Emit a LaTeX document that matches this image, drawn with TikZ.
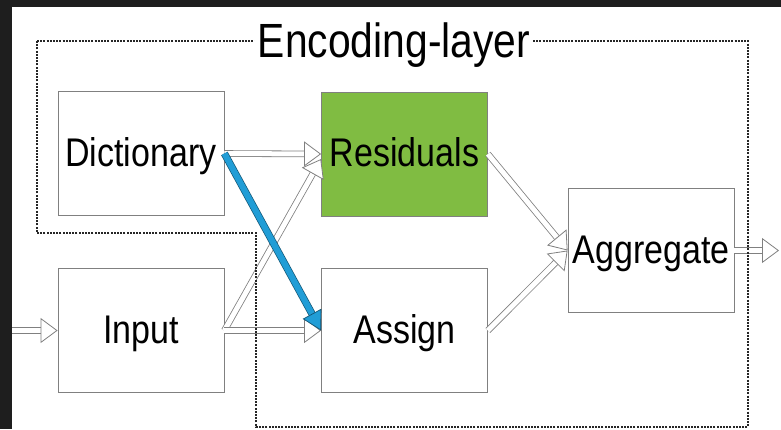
\documentclass[tikz,border=0pt]{standalone}
\usepackage{fontspec}
\setmainfont{Liberation Sans}[FakeStretch=0.85]
\usepackage{tikz}
\usetikzlibrary{arrows.meta}
\definecolor{resgreen}{RGB}{128,188,66}
\definecolor{linkblue}{RGB}{33,157,214}
\definecolor{boxgray}{RGB}{128,128,128}
\definecolor{darkbg}{RGB}{30,30,30}

\begin{document}
\begin{tikzpicture}[x=1pt,y=-1pt,
    block/.style={draw=boxgray, line width=0.8pt, minimum width=166pt, minimum height=124pt,
        inner sep=0pt, text height=25pt, text depth=0pt, font=\fontsize{40}{40}\selectfont},
    hollow/.style={draw=boxgray, line width=0.8pt, double=white, double distance=5pt,
        -{Triangle[open, fill=white, length=17pt, width=25pt]}},
    blueflow/.style={draw=linkblue!55!black, line width=0.7pt, double=linkblue, double distance=6pt,
        -{Triangle[fill=linkblue, length=19pt, width=21pt]}},
    layer/.style={draw=black!85, line width=1.1pt, dash pattern=on 2pt off 1.2pt},
    title/.style={fill=white, inner sep=3pt, anchor=base, font=\fontsize{48}{48}\selectfont}]
    \fill[darkbg] (0,0) rectangle (781,429);
    \fill[white] (12,7) rectangle (781,429);
    \useasboundingbox (0,0) rectangle (781,429);
    \node[block] (dict) at (141,153.5) {Dictionary};
    \node[block, fill=resgreen] (res) at (404.5,154) {Residuals};
    \node[block] (inp) at (141,330.5) {Input};
    \node[block] (asg) at (404.5,330.5) {Assign};
    \node[block] (agg) at (651,250.5) {Aggregate};
    \coordinate (src) at (12,330.5);
    \coordinate (sink) at (779,250.5);
    \draw[hollow] (src) -- (inp.west);
    \draw[hollow] (dict.east) -- (res.west);
    \draw[hollow] (inp.east) -- ([yshift=-5pt]res.west);
    \draw[hollow] (inp.east) -- (asg.west);
    \draw[hollow] (res.east) -- (agg.west);
    \draw[hollow] (asg.east) -- (agg.west);
    \draw[hollow] (agg.east) -- (sink);
    \draw[blueflow] (dict.east) -- (asg.west);
    \draw[layer] (37,41) -- (748,41) -- (748,427) -- (256,427) -- (256,233) -- (37,233) -- cycle;
    \node[title] (enc) at (394,57) {Encoding-layer};
\end{tikzpicture}
\end{document}
